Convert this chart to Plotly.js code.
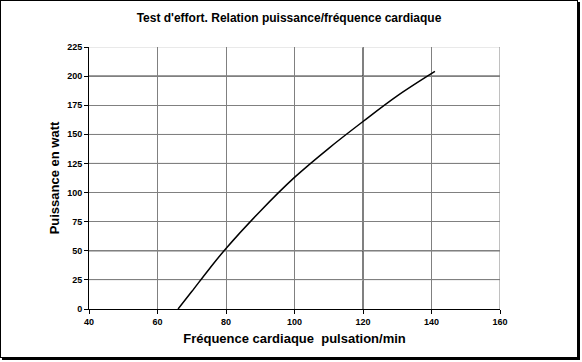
<!DOCTYPE html>
<html><head><meta charset="utf-8">
<script src="https://cdn.plot.ly/plotly-3.0.1.min.js"></script>
<style>
html,body{margin:0;padding:0;background:#fff;}
#frame{position:absolute;left:0;top:0;width:576px;height:356px;border:1px solid #000;box-shadow:2px 2px 0 #000;}
#chart{width:576px;height:356px;}
</style></head>
<body><div id="frame"><div id="chart"></div></div>
<script>
// Data
const heartRate = [66, 70, 75, 80, 90, 100, 110, 120, 130, 141];
const power     = [0, 15, 34, 52, 84, 113, 138, 161, 183, 204];
const xTicks = [40, 60, 80, 100, 120, 140, 160];
const yTicks = [0, 25, 50, 75, 100, 125, 150, 175, 200, 225];
const darkX = [120, 140];
const darkY = [50, 125, 200];
const lightY = [25, 150, 225];

const shapes = [];
darkX.forEach(v => shapes.push({type:'line', xref:'x', yref:'paper', x0:v, x1:v, y0:0, y1:1, line:{color:'#000', width:1}, layer:'below'}));
darkY.forEach(v => shapes.push({type:'line', xref:'paper', yref:'y', x0:0, x1:1, y0:v, y1:v, line:{color:'#000', width:1}, layer:'below'}));
lightY.forEach(v => shapes.push({type:'line', xref:'paper', yref:'y', x0:0, x1:1, y0:v, y1:v, line:{color:'#d4d4d4', width:1}, layer:'below'}));
shapes.push({type:'line', xref:'x', yref:'paper', x0:160, x1:160, y0:0, y1:1, line:{color:'#808080', width:1}, layer:'below'});

const tickFont = {family:'"Liberation Sans Narrow", "Arial Narrow", "Liberation Sans", Arial, sans-serif', size:9, color:'#000', weight:'bold'};

Plotly.newPlot('chart', [{
  x: heartRate, y: power, type:'scatter', mode:'lines',
  line:{color:'#000', width:1.5, shape:'spline', smoothing:1},
  hoverinfo:'skip'
}], {
  width:576, height:356,
  margin:{l:88, r:77, t:46, b:48},
  paper_bgcolor:'#fff', plot_bgcolor:'#fff',
  showlegend:false,
  title:{text:'<b>Test d\'effort. Relation puissance/fréquence cardiaque</b>', font:{family:'"Liberation Sans", Arial, sans-serif', size:12, color:'#000'}, x:0.5, xanchor:'center', y:0.952, yanchor:'middle'},
  xaxis:{range:[40,160], tickvals:xTicks, ticktext:xTicks.map(String), showgrid:true, gridcolor:'#808080', gridwidth:1,
    showline:true, linecolor:'#000', linewidth:1, ticks:'outside', ticklen:4, tickcolor:'#000', zeroline:false,
    tickfont:tickFont, fixedrange:true,
    title:{text:'<b>Fréquence cardiaque  pulsation/min</b>', font:{family:'"Liberation Sans", Arial, sans-serif', size:13, color:'#000'}, standoff:8}},
  yaxis:{range:[0,225], tickvals:yTicks, ticktext:yTicks.map(String), showgrid:true, gridcolor:'#808080', gridwidth:1,
    showline:true, linecolor:'#000', linewidth:1, ticks:'outside', ticklen:4, tickcolor:'#000', zeroline:false,
    tickfont:tickFont, fixedrange:true,
    title:{text:'<b>Puissance en watt</b>', font:{family:'"Liberation Sans", Arial, sans-serif', size:13, color:'#000'}, standoff:4}},
  shapes: shapes
}, {staticPlot:true, displayModeBar:false});
</script></body></html>
